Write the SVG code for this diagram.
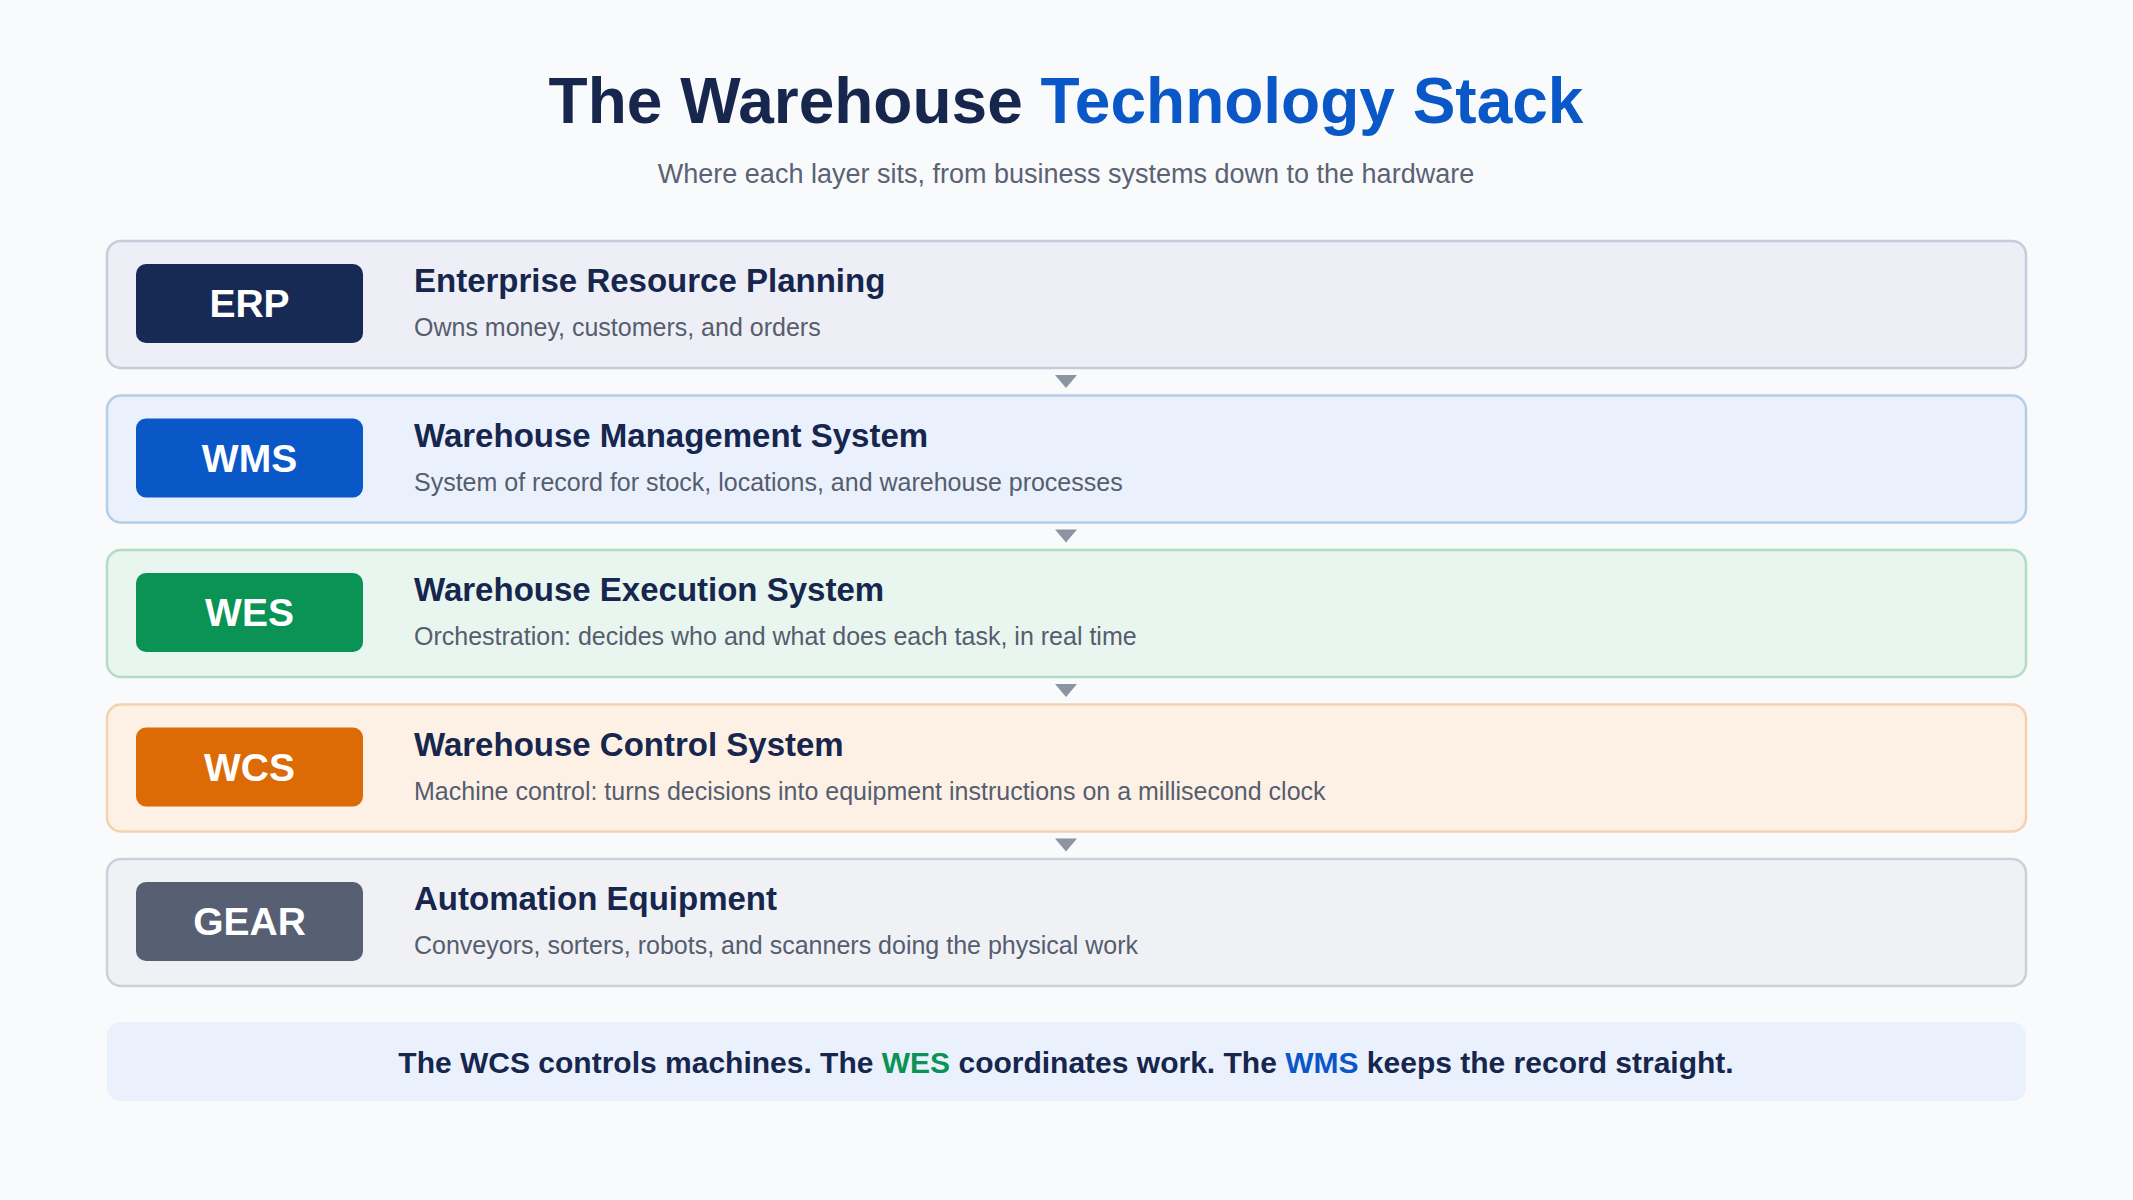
<svg xmlns="http://www.w3.org/2000/svg" width="2133" height="1200" viewBox="0 0 2133 1200">
<style>
text{font-family:"Liberation Sans",Arial,sans-serif}
.panel{stroke-width:2.5}
.badge-t{fill:#fff;font-weight:bold;font-size:39px;text-anchor:middle}
.ttl{fill:#16264d;font-weight:bold;font-size:33px}
.dsc{fill:#555d6e;font-size:25px}
.arr{fill:#8c94a3}
</style>
<rect width="2133" height="1200" fill="#f9fafb"/>
<text x="1066" y="123" text-anchor="middle" font-size="64" font-weight="bold" fill="#16264d">The Warehouse <tspan fill="#0a57c7">Technology Stack</tspan></text>
<text x="1066" y="183" text-anchor="middle" font-size="27" fill="#5a6274">Where each layer sits, from business systems down to the hardware</text>
<g id="erp">
<rect class="panel" x="107" y="241" width="1919" height="127" rx="14" fill="#eeeff6" stroke="#c9cbdc"/>
<rect x="136" y="264" width="227" height="79" rx="10" fill="#172a55"/>
<text class="badge-t" x="249.5" y="317">ERP</text>
<text class="ttl" x="414" y="292">Enterprise Resource Planning</text>
<text class="dsc" x="414" y="336">Owns money, customers, and orders</text>
</g>
<g id="wms">
<rect class="panel" x="107" y="395.5" width="1919" height="127" rx="14" fill="#eaf1fd" stroke="#b4cdea"/>
<rect x="136" y="418.5" width="227" height="79" rx="10" fill="#0a57c7"/>
<text class="badge-t" x="249.5" y="471.5">WMS</text>
<text class="ttl" x="414" y="446.5">Warehouse Management System</text>
<text class="dsc" x="414" y="490.5">System of record for stock, locations, and warehouse processes</text>
</g>
<g id="wes">
<rect class="panel" x="107" y="550" width="1919" height="127" rx="14" fill="#e9f6ef" stroke="#b3dcc5"/>
<rect x="136" y="573" width="227" height="79" rx="10" fill="#0a9354"/>
<text class="badge-t" x="249.5" y="626">WES</text>
<text class="ttl" x="414" y="601">Warehouse Execution System</text>
<text class="dsc" x="414" y="645">Orchestration: decides who and what does each task, in real time</text>
</g>
<g id="wcs">
<rect class="panel" x="107" y="704.5" width="1919" height="127" rx="14" fill="#fdf1e6" stroke="#f4d2ad"/>
<rect x="136" y="727.5" width="227" height="79" rx="10" fill="#dc6a05"/>
<text class="badge-t" x="249.5" y="780.5">WCS</text>
<text class="ttl" x="414" y="755.5">Warehouse Control System</text>
<text class="dsc" x="414" y="799.5">Machine control: turns decisions into equipment instructions on a millisecond clock</text>
</g>
<g id="gear">
<rect class="panel" x="107" y="859" width="1919" height="127" rx="14" fill="#f0f1f5" stroke="#cdd0da"/>
<rect x="136" y="882" width="227" height="79" rx="10" fill="#566072"/>
<text class="badge-t" x="249.5" y="935">GEAR</text>
<text class="ttl" x="414" y="910">Automation Equipment</text>
<text class="dsc" x="414" y="954">Conveyors, sorters, robots, and scanners doing the physical work</text>
</g>
<g id="connectors">
<polygon class="arr" points="1055,375 1077,375 1066,388"/>
<polygon class="arr" points="1055,529.5 1077,529.5 1066,542.5"/>
<polygon class="arr" points="1055,684 1077,684 1066,697"/>
<polygon class="arr" points="1055,838.5 1077,838.5 1066,851.5"/>
</g>
<g id="note">
<rect x="107" y="1022" width="1919" height="79" rx="14" fill="#eaf1fd"/>
<text x="1066" y="1073" text-anchor="middle" font-size="30" font-weight="bold" fill="#16264d">The WCS controls machines. The <tspan fill="#0a9354">WES</tspan> coordinates work. The <tspan fill="#0a57c7">WMS</tspan> keeps the record straight.</text>
</g>
</svg>
